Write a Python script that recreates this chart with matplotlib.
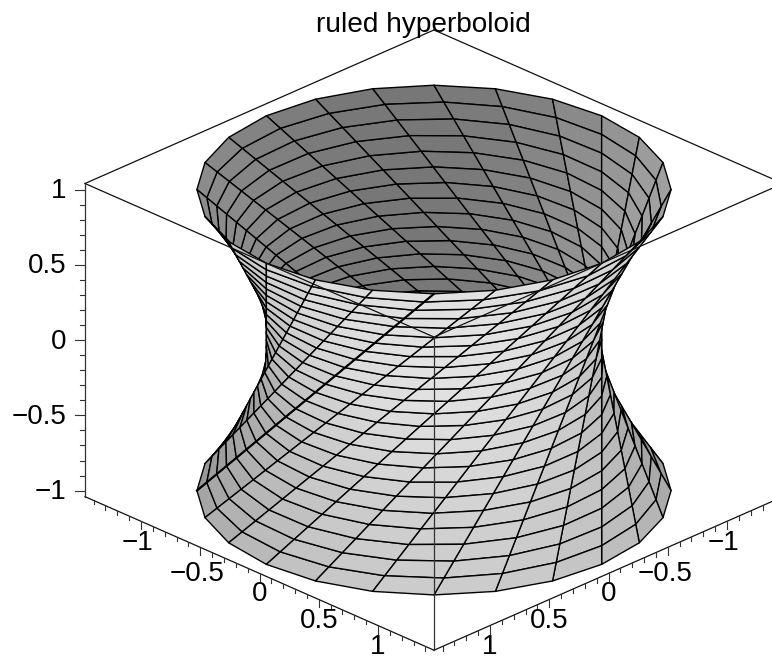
import numpy as np
import matplotlib
matplotlib.use('Agg')
import matplotlib.pyplot as plt
from mpl_toolkits.mplot3d import proj3d

plt.rcParams['font.family'] = ['Liberation Sans', 'DejaVu Sans']

title = 'ruled hyperboloid'
# ruling angles in degrees and heights along the rulings
u_deg = [0, 15, 30, 45, 60, 75, 90, 105, 120, 135, 150, 165, 180, 195, 210, 225,
         240, 255, 270, 285, 300, 315, 330, 345, 360]
v_levels = [-1.0, -0.9167, -0.8333, -0.75, -0.6667, -0.5833, -0.5, -0.4167, -0.3333,
            -0.25, -0.1667, -0.0833, 0.0, 0.0833, 0.1667, 0.25, 0.3333, 0.4167, 0.5,
            0.5833, 0.6667, 0.75, 0.8333, 0.9167, 1.0]
major_ticks = [-1, -0.5, 0, 0.5, 1]
major_labels = ['\u22121', '\u22120.5', '0', '0.5', '1']
xy_minor = [-1.4, -1.3, -1.2, -1.1, -0.9, -0.8, -0.7, -0.6, -0.4, -0.3, -0.2, -0.1,
            0.1, 0.2, 0.3, 0.4, 0.6, 0.7, 0.8, 0.9, 1.1, 1.2, 1.3, 1.4]
z_minor = [-0.9, -0.8, -0.7, -0.6, -0.4, -0.3, -0.2, -0.1, 0.1, 0.2, 0.3, 0.4,
           0.6, 0.7, 0.8, 0.9]
label_drop = [0.145, 0.175, 0.14, 0.145, 0.145]
label_shift = [-3.5, -3, 0, 0, 0]  # pixels, the labels with a minus sit a bit left

W, H = 772, 656
a, zb = 1.472, 1.04  # half sizes of the box
elev, azim = 26.1, 45

fig = plt.figure(figsize=(W / 100, H / 100), dpi=100)
S, x0, y0 = 600.0, 80.0, 30.0
ax = fig.add_axes([x0 / W, y0 / H, S / W, S / H], projection='3d', proj_type='ortho')
ax.set_xlim(-a, a, view_margin=0)
ax.set_ylim(-a, a, view_margin=0)
ax.set_zlim(-zb, zb, view_margin=0)
ax.set_box_aspect((2 * a, 2 * a, 2 * zb))
ax.view_init(elev=elev, azim=azim)
ax.set_axis_off()
ax.computed_zorder = False


def to_px(x, y, z):
    X, Y, _ = proj3d.proj_transform(x, y, z, ax.get_proj())
    return ax.transData.transform((X, Y))


def label_at(x, y, z, s, ha, dx=0):
    # plain figure text, placed where the 3d point lands
    px, py = to_px(x, y, z)
    fig.text((px + dx) / W, py / H, s, fontsize=20, ha=ha, va='center')


# fit the axes so the box corners land where they are in the reference
S *= 698 / (to_px(-a, a, zb)[0] - to_px(a, -a, zb)[0])
ax.set_position([x0 / W, y0 / H, S / W, S / H])
left = to_px(a, -a, zb)
x0 += 85 - left[0]
y0 += (H - 183.5) - left[1]
ax.set_position([x0 / W, y0 / H, S / W, S / H])

# the surface
u, v = np.meshgrid(np.radians(u_deg), v_levels)
X = np.cos(u) - v * np.sin(u)
Y = np.sin(u) + v * np.cos(u)
Z = v

# one grey per quad, outer and inner side are lit differently
cx = (X[:-1, :-1] + X[1:, :-1] + X[:-1, 1:] + X[1:, 1:]) / 4
cy = (Y[:-1, :-1] + Y[1:, :-1] + Y[:-1, 1:] + Y[1:, 1:]) / 4
cz = (Z[:-1, :-1] + Z[1:, :-1] + Z[:-1, 1:] + Z[1:, 1:]) / 4
n = np.sqrt(cx ** 2 + cy ** 2 + cz ** 2)
nx, ny, nz = cx / n, cy / n, -cz / n
view = np.array([np.cos(np.radians(elev)) * np.cos(np.radians(azim)),
                 np.cos(np.radians(elev)) * np.sin(np.radians(azim)),
                 np.sin(np.radians(elev))])
outer = nx * view[0] + ny * view[1] + nz * view[2] > 0
grey_out = 0.675 + 0.13 * nx + 0.156 * ny - 0.07 * nz
# inside is nearly flat, only the sides of the bowl get lighter
side = (cy - cx) / (np.sqrt(2) * np.hypot(cx, cy))
grey_in = 0.47 + 0.12 * side ** 2 + 0.04 * side
grey = np.clip(np.where(outer, grey_out, grey_in), 0, 1)
colors = np.ones(X.shape + (4,))
colors[:-1, :-1, :3] = grey[..., None]

# back edges of the box go under the surface, everything else over it
edge = dict(color='#111111', lw=0.9)
ax.plot([a, -a], [-a, -a], [zb, zb], zorder=1, **edge)
ax.plot([-a, -a], [-a, a], [zb, zb], zorder=1, **edge)

surf = ax.plot_surface(X, Y, Z, rstride=1, cstride=1, facecolors=colors, shade=False,
                       zorder=2)
surf.set_edgecolor('black')
surf.set_linewidth(1.0)

# the seam ruling is drawn twice in the original, so it looks heavier
ax.plot(X[:, 0], Y[:, 0], Z[:, 0], color='black', lw=1.5, zorder=2.5)

ax.plot([a, a], [-a, a], [zb, zb], zorder=3, **edge)
ax.plot([a, -a], [a, a], [zb, zb], zorder=3, **edge)
ax.plot([a, a], [-a, a], [-zb, -zb], zorder=3, **edge)
ax.plot([a, -a], [a, a], [-zb, -zb], zorder=3, **edge)
ax.plot([a, a], [-a, -a], [-zb, zb], zorder=3, color='#333333', lw=0.9)
ax.plot([a, a], [a, a], [-zb, zb], zorder=3, color='#333333', lw=0.9)

tick = dict(color='#333333', lw=0.8, zorder=3)
for t, size in [(m, 0.053) for m in major_ticks] + [(m, 0.027) for m in xy_minor]:
    ax.plot([a, a], [t, t], [-zb, -zb - size], **tick)
    ax.plot([t, t], [a, a], [-zb, -zb - size], **tick)
for t, size in [(m, 0.042) for m in major_ticks] + [(m, 0.021) for m in z_minor]:
    ax.plot([a, a + size], [-a, -a - size], [t, t], **tick)

for t, lab, drop, shift in zip(major_ticks, major_labels, label_drop, label_shift):
    label_at(a, t, -zb - drop, lab, 'center', shift)
    label_at(t, a, -zb - drop, lab, 'center', shift)
    label_at(a + 0.08, -a - 0.08, t - 0.01, lab, 'right')

fig.text(423.5 / W, 1 - 32 / H, title, fontsize=20.2, ha='center', va='baseline')

fig.savefig('out.png', dpi=100)
